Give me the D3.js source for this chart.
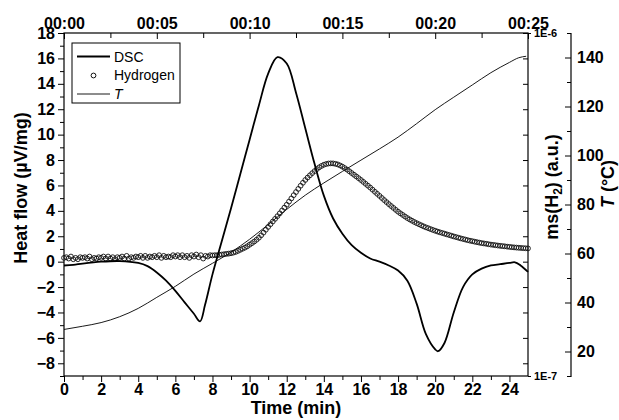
<!DOCTYPE html>
<html>
<head>
<meta charset="utf-8">
<script src="https://cdn.jsdelivr.net/npm/d3@7"></script>
<style>
  html, body { margin: 0; padding: 0; background: #fff; }
  svg { display: block; }
  text { font-family: "Liberation Sans", Arial, sans-serif; }
</style>
</head>
<body>
<svg id="chart" width="619" height="420"></svg>
<script>
// ---- data ----
const dscTime = [0, 0.5, 1, 2, 3, 4, 4.5, 5, 5.5, 6, 6.5, 7, 7.33, 7.6, 8, 8.5, 9, 9.5, 10, 10.5, 11, 11.5, 12, 12.5, 13, 13.5, 14, 14.5, 15, 15.5, 16, 16.5, 17, 17.5, 18, 18.5, 19, 19.5, 20, 20.15, 20.5, 21, 21.5, 22, 22.5, 23, 23.5, 24, 24.3, 24.6, 25];
const dscHeat = [-0.3, -0.25, -0.15, 0.0, 0.05, -0.1, -0.35, -0.85, -1.5, -2.3, -3.2, -4.1, -4.7, -3.4, -1.0, 1.6, 4.2, 6.9, 9.6, 12.3, 14.8, 16.1, 15.6, 13.3, 10.5, 7.7, 5.2, 3.4, 2.2, 1.3, 0.7, 0.25, 0.0, -0.3, -0.7, -1.5, -3.3, -5.7, -6.9, -7.05, -6.4, -4.0, -2.0, -1.0, -0.55, -0.3, -0.2, -0.1, -0.05, -0.3, -0.8];

const tempTime = [0, 1, 2, 3, 4, 5, 6, 7, 8, 9, 10, 11, 12, 13, 14, 15, 16, 17, 18, 19, 20, 21, 22, 23, 24, 24.5, 24.9];
const tempC = [29, 30.3, 31.8, 34.2, 37.6, 42.1, 46.6, 51.6, 56.0, 60.5, 65.8, 71.8, 78.0, 83.8, 88.8, 93.5, 98.1, 102.7, 107.5, 113.0, 118.7, 123.8, 128.8, 133.8, 138.0, 139.9, 140.5];

// hydrogen MS signal, sampled every 0.125 min from 0 to 25 (units of 1E-7 a.u.)
const h2Start = 0, h2Step = 0.125;
const h2Signal = [
  2.21, 2.22, 2.20, 2.23, 2.19, 2.21, 2.19, 2.22,
  2.21, 2.22, 2.20, 2.23, 2.19, 2.21, 2.20, 2.22,
  2.21, 2.23, 2.20, 2.23, 2.20, 2.22, 2.19, 2.22,
  2.21, 2.23, 2.20, 2.24, 2.20, 2.22, 2.21, 2.23,
  2.22, 2.24, 2.21, 2.24, 2.21, 2.23, 2.22, 2.24,
  2.22, 2.25, 2.21, 2.24, 2.22, 2.23, 2.22, 2.25,
  2.23, 2.25, 2.22, 2.25, 2.22, 2.24, 2.21, 2.25,
  2.23, 2.26, 2.22, 2.25, 2.20, 2.24, 2.23, 2.25,
  2.246, 2.250, 2.250, 2.255, 2.260, 2.265, 2.270, 2.274,
  2.280, 2.289, 2.300, 2.316, 2.333, 2.350, 2.367, 2.389,
  2.414, 2.439, 2.466, 2.496, 2.530, 2.572, 2.618, 2.669,
  2.720, 2.770, 2.821, 2.872, 2.924, 2.980, 3.038, 3.097,
  3.157, 3.225, 3.294, 3.366, 3.438, 3.512, 3.587, 3.659,
  3.728, 3.789, 3.847, 3.903, 3.957, 4.010, 4.059, 4.097,
  4.129, 4.150, 4.164, 4.168, 4.167, 4.155, 4.139, 4.110,
  4.077, 4.038, 3.997, 3.952, 3.906, 3.861, 3.817, 3.773,
  3.728, 3.681, 3.634, 3.588, 3.542, 3.493, 3.444, 3.397,
  3.351, 3.304, 3.258, 3.214, 3.171, 3.130, 3.091, 3.051,
  3.013, 2.980, 2.949, 2.917, 2.887, 2.861, 2.836, 2.812,
  2.790, 2.770, 2.750, 2.731, 2.713, 2.697, 2.681, 2.666,
  2.651, 2.637, 2.624, 2.612, 2.600, 2.588, 2.576, 2.564,
  2.552, 2.541, 2.530, 2.519, 2.509, 2.499, 2.489, 2.480,
  2.472, 2.464, 2.456, 2.448, 2.441, 2.435, 2.429, 2.422,
  2.416, 2.411, 2.406, 2.401, 2.396, 2.392, 2.388, 2.383,
  2.379, 2.375, 2.371, 2.368, 2.365, 2.362, 2.359, 2.357,
  2.355
];
const h2Unit = 1e-7;

const bottomTicks = [0, 2, 4, 6, 8, 10, 12, 14, 16, 18, 20, 22, 24];
const topTicks = [0, 5, 10, 15, 20, 25];
const topTickLabels = ["00:00", "00:05", "00:10", "00:15", "00:20", "00:25"];
const leftTicks = [-8, -6, -4, -2, 0, 2, 4, 6, 8, 10, 12, 14, 16, 18];
const tempTicks = [20, 40, 60, 80, 100, 120, 140];

// ---- layout ----
const svg = d3.select("#chart");
const L = 64, R = 528, T = 33, B = 376;
const x = d3.scaleLinear().domain([0, 25]).range([L, R]);
const yH = d3.scaleLinear().domain([-9, 18]).range([B, T]);
const yMs = d3.scaleLog().domain([1e-7, 1e-6]).range([B, T]);
const yT = d3.scaleLinear().domain([10, 150]).range([B, T]);
const tempAxisX = 571;
const FS = 16;

function styleAxis(g, fs) {
  g.select(".domain").remove();
  g.selectAll("line").attr("stroke", "#000").attr("stroke-width", 1);
  g.selectAll("text").attr("font-size", fs).attr("font-weight", "bold").attr("fill", "#000")
    .attr("font-family", "'Liberation Sans', Arial, sans-serif");
}

// bottom axis
svg.append("g").attr("transform", `translate(0,${B})`)
  .call(d3.axisBottom(x).tickValues(bottomTicks).tickSize(6).tickPadding(2).tickFormat(d3.format("d")))
  .call(g => styleAxis(g, FS));
svg.append("g").attr("transform", `translate(0,${B})`)
  .call(d3.axisBottom(x).tickValues(d3.range(1, 25, 2)).tickSize(4).tickFormat(""))
  .call(g => styleAxis(g, FS));

// top axis (inward ticks)
svg.append("g").attr("transform", `translate(0,${T})`)
  .call(d3.axisTop(x).tickValues(topTicks).tickSizeInner(-6).tickSizeOuter(0).tickPadding(4)
    .tickFormat((d, i) => topTickLabels[i]))
  .call(g => styleAxis(g, FS));
svg.append("g").attr("transform", `translate(0,${T})`)
  .call(d3.axisTop(x).tickValues([2.5, 7.5, 12.5, 17.5, 22.5]).tickSizeInner(-5).tickSizeOuter(0).tickFormat(""))
  .call(g => styleAxis(g, FS));

// left axis
svg.append("g").attr("transform", `translate(${L},0)`)
  .call(d3.axisLeft(yH).tickValues(leftTicks).tickSize(6).tickPadding(3).tickFormat(d3.format("d")))
  .call(g => styleAxis(g, FS));
svg.append("g").attr("transform", `translate(${L},0)`)
  .call(d3.axisLeft(yH).tickValues(d3.range(-9, 18, 2)).tickSize(4).tickFormat(""))
  .call(g => styleAxis(g, FS));

// inner right axis: mirrored ticks, log labels
svg.append("g").attr("transform", `translate(${R},0)`)
  .call(d3.axisLeft(yH).tickValues(leftTicks).tickSize(5).tickFormat(""))
  .call(g => styleAxis(g, FS));
svg.append("g").attr("transform", `translate(${R},0)`)
  .call(d3.axisRight(yMs).tickValues([1e-7, 1e-6]).tickSize(3).tickPadding(3)
    .tickFormat(d => d === 1e-6 ? "1E-6" : "1E-7"))
  .call(g => styleAxis(g, 11));

// temperature axis
svg.append("line").attr("x1", tempAxisX).attr("x2", tempAxisX).attr("y1", T).attr("y2", B + 1)
  .attr("stroke", "#000").attr("stroke-width", 1.2);
svg.append("g").attr("transform", `translate(${tempAxisX},0)`)
  .call(d3.axisRight(yT).tickValues(tempTicks).tickSizeInner(-6).tickSizeOuter(0).tickPadding(6).tickFormat(d3.format("d")))
  .call(g => styleAxis(g, FS));
svg.append("g").attr("transform", `translate(${tempAxisX},0)`)
  .call(d3.axisRight(yT).tickValues([10, 30, 50, 70, 90, 110, 130, 150]).tickSizeInner(-4).tickSizeOuter(0).tickFormat(""))
  .call(g => styleAxis(g, FS));

// frame
svg.append("rect").attr("x", L).attr("y", T).attr("width", R - L).attr("height", B - T)
  .attr("fill", "none").attr("stroke", "#000").attr("stroke-width", 1.2);

// ---- series ----
const tempLine = d3.line().x((d, i) => x(tempTime[i])).y(d => yT(d)).curve(d3.curveMonotoneX);
svg.append("path").datum(tempC).attr("d", tempLine)
  .attr("fill", "none").attr("stroke", "#000").attr("stroke-width", 0.9);

const h2Data = h2Signal.map((v, i) => ({ t: h2Start + i * h2Step, v: v * h2Unit }));
svg.append("g").selectAll("circle").data(h2Data).join("circle")
  .attr("cx", d => x(d.t)).attr("cy", d => yMs(d.v)).attr("r", 2.4)
  .attr("fill", "none").attr("stroke", "#111").attr("stroke-width", 0.9);

const dscLine = d3.line().x((d, i) => x(dscTime[i])).y(d => yH(d)).curve(d3.curveCatmullRom.alpha(0.5));
svg.append("path").datum(dscHeat).attr("d", dscLine)
  .attr("fill", "none").attr("stroke", "#000").attr("stroke-width", 1.8);

// ---- axis titles ----
svg.append("text").attr("x", x(12.5)).attr("y", 414).attr("text-anchor", "middle")
  .attr("font-size", 18).attr("font-weight", "bold").text("Time (min)");

svg.append("text").attr("transform", `translate(27,188) rotate(-90)`).attr("text-anchor", "middle")
  .attr("font-size", 18).attr("font-weight", "bold").text("Heat flow (\u00B5V/mg)");

const msLabel = svg.append("text").attr("transform", `translate(558,187) rotate(-90)`).attr("text-anchor", "middle")
  .attr("font-size", 18).attr("font-weight", "bold");
msLabel.append("tspan").text("ms(H");
msLabel.append("tspan").attr("font-size", 12).attr("dy", 4).text("2");
msLabel.append("tspan").attr("dy", -4).text(") (a.u.)");

const tLabel = svg.append("text").attr("transform", `translate(614,184) rotate(-90)`).attr("text-anchor", "middle")
  .attr("font-size", 18).attr("font-weight", "bold");
tLabel.append("tspan").attr("font-style", "italic").text("T");
tLabel.append("tspan").text(" (\u00B0C)");

// ---- legend ----
const lg = svg.append("g");
lg.append("rect").attr("x", 72).attr("y", 43).attr("width", 108).attr("height", 60)
  .attr("fill", "#fff").attr("stroke", "#000").attr("stroke-width", 1);
lg.append("line").attr("x1", 77).attr("x2", 110).attr("y1", 56.5).attr("y2", 56.5).attr("stroke", "#000").attr("stroke-width", 1.8);
lg.append("text").attr("x", 114).attr("y", 61.5).attr("font-size", 14).text("DSC");
lg.append("circle").attr("cx", 93.5).attr("cy", 75.5).attr("r", 2.4).attr("fill", "none").attr("stroke", "#111").attr("stroke-width", 1);
lg.append("text").attr("x", 114).attr("y", 80).attr("font-size", 14).text("Hydrogen");
lg.append("line").attr("x1", 77).attr("x2", 110).attr("y1", 94).attr("y2", 94).attr("stroke", "#000").attr("stroke-width", 0.9);
lg.append("text").attr("x", 114).attr("y", 99).attr("font-size", 14).attr("font-style", "italic").text("T");
</script>
</body>
</html>
